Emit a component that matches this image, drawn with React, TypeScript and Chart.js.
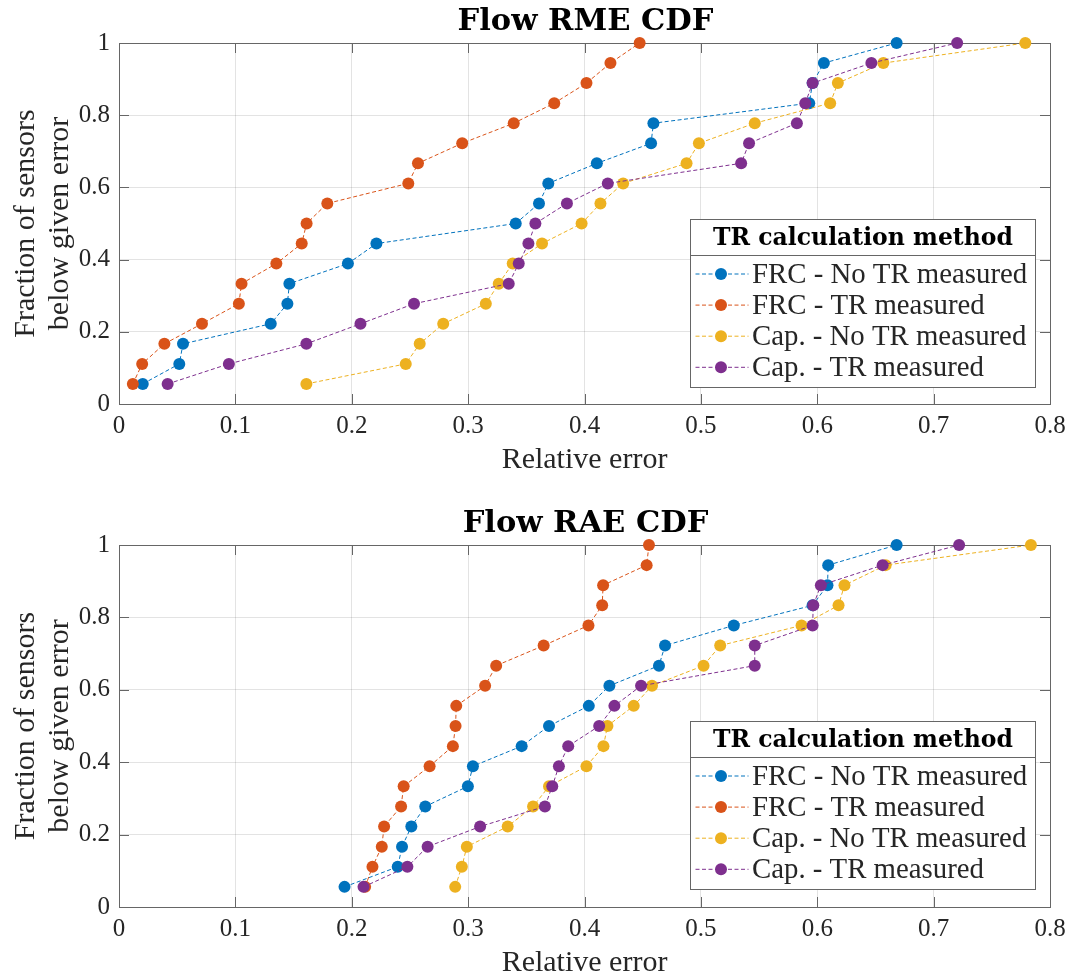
import React, { useEffect, useRef } from 'react';
import { Chart, registerables } from 'chart.js';

Chart.register(...registerables);

// ---------------- data ----------------
const SERIES_NAMES = ['FRC - No TR measured', 'FRC - TR measured', 'Cap. - No TR measured', 'Cap. - TR measured'];
const SERIES_COLORS = ['#0072BD', '#D95319', '#EDB120', '#7E2F8E'];
const LEGEND_TITLE = 'TR calculation method';
const X_LABEL = 'Relative error';
const Y_LABEL = ['Fraction of sensors', 'below given error'];
const TITLES = ['Flow RME CDF', 'Flow RAE CDF'];
const X_TICKS = [0, 0.1, 0.2, 0.3, 0.4, 0.5, 0.6, 0.7, 0.8];
const Y_TICKS = [0, 0.2, 0.4, 0.6, 0.8, 1];

// fraction of sensors (18 sensors)
const CDF_LEVELS = [0.0556, 0.1111, 0.1667, 0.2222, 0.2778, 0.3333, 0.3889, 0.4444, 0.5, 0.5556, 0.6111, 0.6667, 0.7222, 0.7778, 0.8333, 0.8889, 0.9444, 1];

// Flow RME CDF
const RME_FRC_NO_TR = [0.0204, 0.0518, 0.055, 0.1304, 0.1447, 0.1464, 0.1967, 0.2212, 0.3409, 0.3609, 0.3689, 0.4106, 0.4572, 0.4592, 0.5931, 0.596, 0.6057, 0.6682];
const RME_FRC_TR = [0.0119, 0.0199, 0.039, 0.0713, 0.103, 0.1053, 0.1352, 0.157, 0.1612, 0.179, 0.2486, 0.2569, 0.2949, 0.3392, 0.374, 0.4017, 0.4223, 0.4474];
const RME_CAP_NO_TR = [0.161, 0.2464, 0.2584, 0.2786, 0.3152, 0.3263, 0.3383, 0.3635, 0.3975, 0.4137, 0.4332, 0.4877, 0.4983, 0.5463, 0.6111, 0.6177, 0.6568, 0.7788];
const RME_CAP_TR = [0.0418, 0.0944, 0.161, 0.2075, 0.2535, 0.3349, 0.3435, 0.3518, 0.3578, 0.3849, 0.42, 0.5346, 0.5414, 0.5825, 0.5897, 0.596, 0.6465, 0.7202];

// Flow RAE CDF
const RAE_FRC_NO_TR = [0.1938, 0.2395, 0.2432, 0.2512, 0.2632, 0.2998, 0.3041, 0.346, 0.3695, 0.4037, 0.4214, 0.464, 0.4692, 0.5283, 0.596, 0.6088, 0.6094, 0.6682];
const RAE_FRC_TR = [0.2115, 0.2178, 0.2258, 0.2278, 0.2424, 0.2446, 0.2669, 0.2869, 0.2892, 0.2898, 0.3146, 0.3241, 0.3649, 0.4034, 0.4152, 0.416, 0.4534, 0.4554];
const RAE_CAP_NO_TR = [0.2889, 0.2946, 0.2989, 0.334, 0.3558, 0.3695, 0.4017, 0.4163, 0.4197, 0.4423, 0.458, 0.5023, 0.5166, 0.5865, 0.6183, 0.6234, 0.6588, 0.7836];
const RAE_CAP_TR = [0.2101, 0.2478, 0.2652, 0.3103, 0.366, 0.3723, 0.378, 0.386, 0.4126, 0.4257, 0.4486, 0.5463, 0.5463, 0.596, 0.5966, 0.6031, 0.6562, 0.7219];

// ---------------- styling ----------------
const SERIF = '"Liberation Serif", "Times New Roman", serif';
const SERIF_BOLD = '"DejaVu Serif", serif';
const TEXT_COLOR = '#262626';
const AXIS_COLOR = '#666666';
const GRID_COLOR = 'rgba(38,38,38,0.13)';

type Layout = { canvasH: number; plotTop: number; plotBottom: number; xTitlePad: number };

const LAYOUTS: Layout[] = [
  { canvasH: 490, plotTop: 43, plotBottom: 404, xTitlePad: 12 },
  { canvasH: 490, plotTop: 55, plotBottom: 417, xTitlePad: -1 },
];

function makeChart(canvas: HTMLCanvasElement, title: string, series: number[][], lay: Layout) {
  const datasets = series.map((xs, i) => ({
    label: SERIES_NAMES[i],
    data: xs.map((x, k) => ({ x, y: CDF_LEVELS[k] })),
    borderColor: SERIES_COLORS[i],
    backgroundColor: SERIES_COLORS[i],
    pointBackgroundColor: SERIES_COLORS[i],
    pointBorderColor: SERIES_COLORS[i],
    pointBorderWidth: 0,
    pointRadius: 6,
    borderWidth: 1,
    borderDash: [4, 2.5],
    showLine: true,
    fill: false,
    tension: 0,
    clip: false as any,
    order: 3 - i,
  }));

  const framePlugin = {
    id: 'matlabFrame',
    beforeDatasetsDraw(chart: any) {
      const { ctx, chartArea } = chart;
      const { left, right, top, bottom } = chartArea;
      const xs = chart.scales.x;
      const ys = chart.scales.y;
      ctx.save();
      ctx.strokeStyle = AXIS_COLOR;
      ctx.lineWidth = 1;
      ctx.beginPath();
      const tl = 10;
      X_TICKS.forEach((v) => {
        const px = Math.round(xs.getPixelForValue(v)) + 0.5;
        ctx.moveTo(px, bottom);
        ctx.lineTo(px, bottom - tl);
        ctx.moveTo(px, top);
        ctx.lineTo(px, top + tl);
      });
      Y_TICKS.forEach((v) => {
        const py = Math.round(ys.getPixelForValue(v)) + 0.5;
        ctx.moveTo(left, py);
        ctx.lineTo(left + tl, py);
        ctx.moveTo(right, py);
        ctx.lineTo(right - tl, py);
      });
      ctx.stroke();
      ctx.strokeRect(Math.round(left) + 0.5, Math.round(top) + 0.5, Math.round(right - left), Math.round(bottom - top));
      ctx.restore();
    },
  };

  const textPlugin = {
    id: 'matlabText',
    afterDraw(chart: any) {
      const { ctx, chartArea } = chart;
      const { left, right, top } = chartArea;
      ctx.save();
      // title
      ctx.fillStyle = '#000';
      ctx.font = `bold 30.5px ${SERIF_BOLD}`;
      ctx.textAlign = 'center';
      ctx.textBaseline = 'alphabetic';
      ctx.fillText(title, (left + right) / 2 + 1, top - 13.5);

      // legend
      const lw = 345;
      const lh = 168;
      const lx = Math.round(right - 360) + 0.5;
      const ly = Math.round(top + 176) + 0.5;
      ctx.fillStyle = '#ffffff';
      ctx.fillRect(lx, ly, lw, lh);
      ctx.strokeStyle = AXIS_COLOR;
      ctx.lineWidth = 1;
      ctx.strokeRect(lx, ly, lw, lh);
      ctx.beginPath();
      ctx.moveTo(lx, ly + 36);
      ctx.lineTo(lx + lw, ly + 36);
      ctx.stroke();

      ctx.fillStyle = '#000';
      ctx.font = `bold 23.5px ${SERIF_BOLD}`;
      ctx.textAlign = 'center';
      ctx.textBaseline = 'middle';
      ctx.fillText(LEGEND_TITLE, lx + lw / 2, ly + 19);

      ctx.font = `28.8px ${SERIF}`;
      ctx.textAlign = 'left';
      SERIES_NAMES.forEach((name, i) => {
        const ry = ly + 54.5 + i * 31.1;
        ctx.strokeStyle = SERIES_COLORS[i];
        ctx.lineWidth = 1;
        ctx.setLineDash([4, 2.5]);
        ctx.beginPath();
        ctx.moveTo(lx + 5, ry);
        ctx.lineTo(lx + 58, ry);
        ctx.stroke();
        ctx.setLineDash([]);
        ctx.fillStyle = SERIES_COLORS[i];
        ctx.beginPath();
        ctx.arc(lx + 30.5, ry, 6, 0, Math.PI * 2);
        ctx.fill();
        ctx.fillStyle = TEXT_COLOR;
        ctx.fillText(name, lx + 61.5, ry + 1);
      });
      ctx.restore();
    },
  };

  return new Chart(canvas, {
    type: 'scatter',
    data: { datasets: datasets as any },
    plugins: [framePlugin, textPlugin],
    options: {
      animation: false,
      responsive: false,
      devicePixelRatio: 1,
      events: [],
      layout: { padding: { top: lay.plotTop, right: 25, bottom: 0, left: 0 } },
      plugins: {
        legend: { display: false },
        title: { display: false },
        tooltip: { enabled: false },
      },
      scales: {
        x: {
          type: 'linear',
          min: 0,
          max: 0.8,
          afterBuildTicks: (s: any) => {
            s.ticks = X_TICKS.map((v) => ({ value: v }));
          },
          afterFit: (s: any) => {
            s.height = lay.canvasH - lay.plotBottom;
          },
          grid: { color: GRID_COLOR, lineWidth: 1, drawTicks: false },
          border: { display: false },
          ticks: {
            padding: 7.6,
            color: TEXT_COLOR,
            font: { family: SERIF, size: 25, lineHeight: 1.2 },
            maxRotation: 0,
            autoSkip: false,
            callback: (v: any) => String(v),
          },
          title: {
            display: true,
            text: X_LABEL,
            color: TEXT_COLOR,
            font: { family: SERIF, size: 30, lineHeight: 1.2 },
            padding: { top: 0, bottom: lay.xTitlePad },
          },
        },
        y: {
          type: 'linear',
          min: 0,
          max: 1,
          afterBuildTicks: (s: any) => {
            s.ticks = Y_TICKS.map((v) => ({ value: v }));
          },
          afterFit: (s: any) => {
            s.width = 119;
          },
          grid: { color: GRID_COLOR, lineWidth: 1, drawTicks: false },
          border: { display: false },
          ticks: {
            padding: 9,
            color: TEXT_COLOR,
            font: { family: SERIF, size: 25, lineHeight: 1.2 },
            autoSkip: false,
            callback: (v: any) => String(v),
          },
          title: {
            display: true,
            text: Y_LABEL,
            color: TEXT_COLOR,
            font: { family: SERIF, size: 30, lineHeight: 1.133 },
            padding: { top: 9, bottom: 0 },
          },
        },
      },
    } as any,
  });
}

export default function App() {
  const topRef = useRef<HTMLCanvasElement | null>(null);
  const botRef = useRef<HTMLCanvasElement | null>(null);

  useEffect(() => {
    const charts: Chart[] = [];
    if (topRef.current) {
      charts.push(
        makeChart(topRef.current, TITLES[0], [RME_FRC_NO_TR, RME_FRC_TR, RME_CAP_NO_TR, RME_CAP_TR], LAYOUTS[0])
      );
    }
    if (botRef.current) {
      charts.push(
        makeChart(botRef.current, TITLES[1], [RAE_FRC_NO_TR, RAE_FRC_TR, RAE_CAP_NO_TR, RAE_CAP_TR], LAYOUTS[1])
      );
    }
    return () => charts.forEach((c) => c.destroy());
  }, []);

  return (
    <div style={{ position: 'absolute', left: 0, top: 0, width: 1075, height: 980, background: '#fff', overflow: 'hidden' }}>
      <canvas ref={topRef} width={1075} height={LAYOUTS[0].canvasH} style={{ display: 'block', width: 1075, height: LAYOUTS[0].canvasH }} />
      <canvas ref={botRef} width={1075} height={LAYOUTS[1].canvasH} style={{ display: 'block', width: 1075, height: LAYOUTS[1].canvasH }} />
    </div>
  );
}
